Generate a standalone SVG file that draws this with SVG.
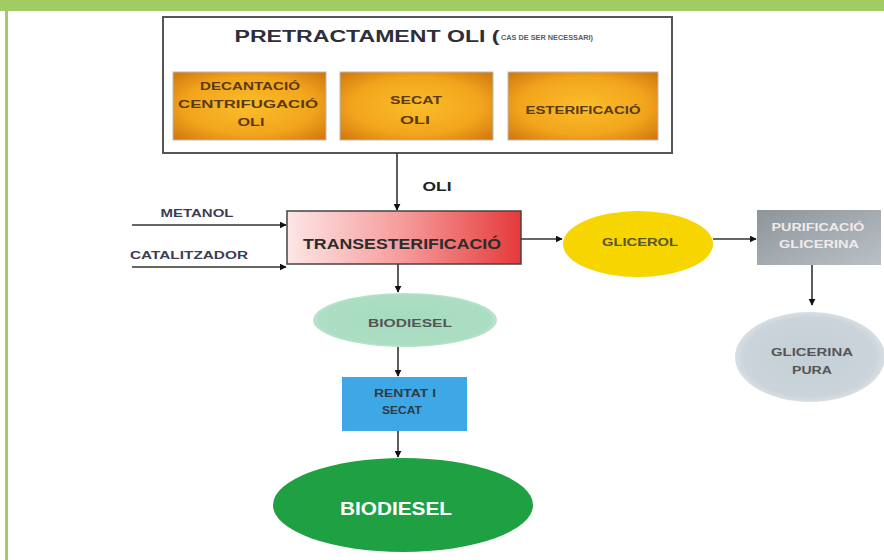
<svg xmlns="http://www.w3.org/2000/svg" width="884" height="560" viewBox="0 0 884 560">
<defs>
<style>
text{font-family:"Liberation Sans",Arial,sans-serif;font-weight:bold;text-anchor:middle;dominant-baseline:central}
.conn{stroke:#333;stroke-width:1.6;fill:none;marker-end:url(#ah)}
.orange{fill:url(#og);stroke:#b9b9b9;stroke-width:1}
.otxt{fill:#5a3a12;font-size:10px}
.lbl{fill:#3d3d55;font-size:10px}
</style>
<marker id="ah" viewBox="0 0 10 10" refX="9" refY="5" markerWidth="7" markerHeight="7" orient="auto" markerUnits="userSpaceOnUse">
<path d="M0,0 L10,5 L0,10 z" fill="#111"/>
</marker>
<radialGradient id="og" cx="50%" cy="50%" r="70%">
<stop offset="0" stop-color="#fbbd2a"/>
<stop offset="0.6" stop-color="#f2a51c"/>
<stop offset="1" stop-color="#d07510"/>
</radialGradient>
<linearGradient id="rg" x1="0" y1="0" x2="1" y2="0">
<stop offset="0" stop-color="#fde6e6"/>
<stop offset="0.5" stop-color="#f69a9a"/>
<stop offset="1" stop-color="#e53a3a"/>
</linearGradient>
<linearGradient id="gg" x1="0" y1="0" x2="1" y2="1">
<stop offset="0" stop-color="#8d959b"/>
<stop offset="1" stop-color="#b9c0c6"/>
</linearGradient>
<radialGradient id="cg" cx="50%" cy="50%" r="55%">
<stop offset="0" stop-color="#c3ced6"/>
<stop offset="0.8" stop-color="#cbd4da"/>
<stop offset="1" stop-color="#e4e9ec"/>
</radialGradient>
<radialGradient id="lg" cx="50%" cy="50%" r="55%">
<stop offset="0" stop-color="#a6dbbf"/>
<stop offset="0.85" stop-color="#acdec4"/>
<stop offset="1" stop-color="#d6eee2"/>
</radialGradient>
</defs>
<rect x="0" y="0" width="884" height="560" fill="#ffffff"/>
<rect x="0" y="0" width="884" height="11" fill="#a0cc63"/>
<rect x="5" y="0" width="3" height="560" fill="#a0cc63"/>

<g id="pretractament">
<rect x="163" y="17" width="509" height="136" fill="#ffffff" stroke="#555" stroke-width="2"/>
<text x="367" y="36" font-size="16" fill="#2e2e3a" textLength="265" lengthAdjust="spacingAndGlyphs">PRETRACTAMENT OLI (</text>
<text x="547" y="37" font-size="8" fill="#5a5a66" textLength="92" lengthAdjust="spacingAndGlyphs">CAS DE SER NECESSARI)</text>
</g>
<g id="decantacio">
<rect class="orange" x="173" y="72" width="153" height="68"/>
<text class="otxt" x="250" y="86" textLength="100" lengthAdjust="spacingAndGlyphs">DECANTACIÓ</text>
<text class="otxt" x="248" y="104" textLength="140" lengthAdjust="spacingAndGlyphs">CENTRIFUGACIÓ</text>
<text class="otxt" x="251" y="122" textLength="27" lengthAdjust="spacingAndGlyphs">OLI</text>
</g>
<g id="secat-oli">
<rect class="orange" x="340" y="72" width="153" height="68"/>
<text class="otxt" x="416" y="100" textLength="52" lengthAdjust="spacingAndGlyphs">SECAT</text>
<text class="otxt" x="415" y="120" textLength="30" lengthAdjust="spacingAndGlyphs">OLI</text>
</g>
<g id="esterificacio">
<rect class="orange" x="508" y="72" width="150" height="68"/>
<text class="otxt" x="583" y="110" textLength="115" lengthAdjust="spacingAndGlyphs">ESTERIFICACIÓ</text>
</g>

<g id="metanol"><text class="lbl" x="197" y="213" textLength="73" lengthAdjust="spacingAndGlyphs">METANOL</text></g>
<g id="catalitzador"><text class="lbl" x="189" y="255" textLength="118" lengthAdjust="spacingAndGlyphs">CATALITZADOR</text></g>
<g id="oli-label"><text x="437" y="186" font-size="13" fill="#222" textLength="29" lengthAdjust="spacingAndGlyphs">OLI</text></g>

<g id="transesterificacio">
<rect x="287" y="211" width="234" height="53" fill="url(#rg)" stroke="#444" stroke-width="1.5"/>
<text x="402" y="243" font-size="15" fill="#2c2c2c" textLength="198" lengthAdjust="spacingAndGlyphs">TRANSESTERIFICACIÓ</text>
</g>

<g id="biodiesel-cru">
<ellipse cx="405" cy="320" rx="92" ry="27" fill="url(#lg)"/>
<text x="410" y="323" font-size="10" fill="#555" textLength="84" lengthAdjust="spacingAndGlyphs">BIODIESEL</text>
</g>

<g id="rentat">
<rect x="342" y="377" width="125" height="54" fill="#3ea8e6"/>
<text x="405" y="393" font-size="10" fill="#2f3a48" textLength="62" lengthAdjust="spacingAndGlyphs">RENTAT I</text>
<text x="402" y="410" font-size="10" fill="#2f3a48" textLength="40" lengthAdjust="spacingAndGlyphs">SECAT</text>
</g>

<g id="biodiesel">
<ellipse cx="403" cy="505" rx="130" ry="47" fill="#1ea043"/>
<text x="396" y="508" font-size="19" fill="#ffffff" textLength="112" lengthAdjust="spacingAndGlyphs">BIODIESEL</text>
</g>

<g id="glicerol">
<ellipse cx="638" cy="244" rx="75" ry="33" fill="#f6d500"/>
<text x="640" y="242" font-size="10" fill="#5a5530" textLength="76" lengthAdjust="spacingAndGlyphs">GLICEROL</text>
</g>

<g id="purificacio">
<rect x="757" y="210" width="124" height="55" fill="url(#gg)"/>
<text x="818" y="227" font-size="10" fill="#f2eaea" textLength="93" lengthAdjust="spacingAndGlyphs">PURIFICACIÓ</text>
<text x="819" y="244" font-size="10" fill="#f2eaea" textLength="80" lengthAdjust="spacingAndGlyphs">GLICERINA</text>
</g>

<g id="glicerina-pura">
<ellipse cx="810" cy="357" rx="75" ry="45" fill="url(#cg)"/>
<text x="812" y="352" font-size="10" fill="#555" textLength="82" lengthAdjust="spacingAndGlyphs">GLICERINA</text>
<text x="812" y="370" font-size="10" fill="#555" textLength="40" lengthAdjust="spacingAndGlyphs">PURA</text>
</g>

<g id="connectors">
<line class="conn" x1="397" y1="153" x2="397" y2="210"/>
<line class="conn" x1="132" y1="225" x2="286" y2="225"/>
<line class="conn" x1="132" y1="267" x2="286" y2="267"/>
<line class="conn" x1="398" y1="264" x2="398" y2="292"/>
<line class="conn" x1="398" y1="347" x2="398" y2="376"/>
<line class="conn" x1="398" y1="431" x2="398" y2="457"/>
<line class="conn" x1="521" y1="239" x2="562" y2="239"/>
<line class="conn" x1="713" y1="239" x2="756" y2="239"/>
<line class="conn" x1="812" y1="265" x2="812" y2="305"/>
</g>
</svg>
